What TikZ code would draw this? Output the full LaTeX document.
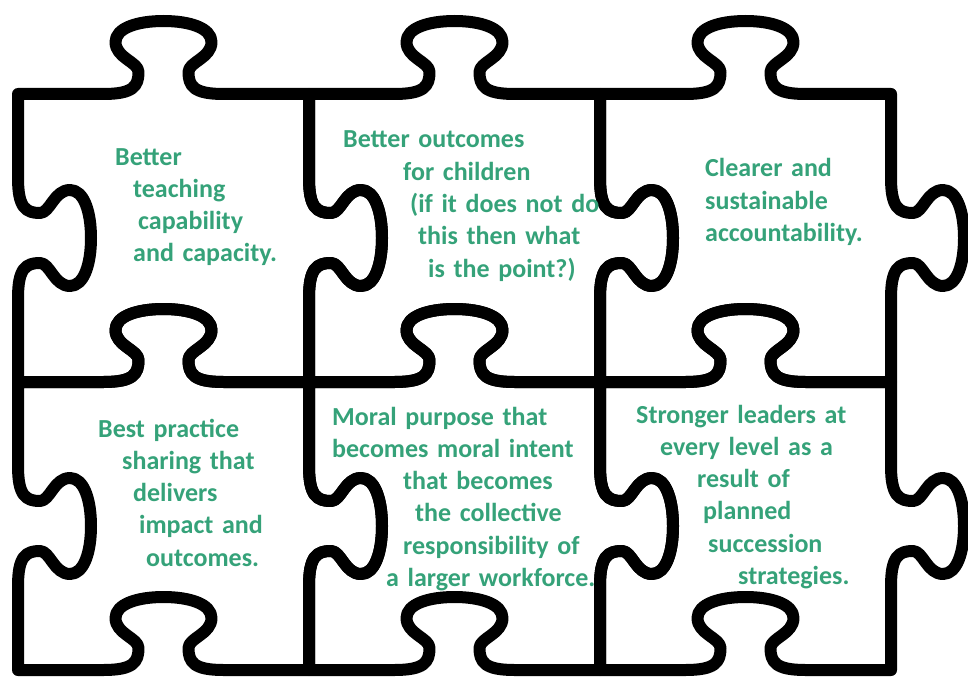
\documentclass[tikz,border=0pt]{standalone}
\usepackage{fontspec}
\setmainfont{Carlito}
\definecolor{leafgreen}{RGB}{53,162,121}
% one puzzle piece, 291 x 288, knob out at top and right, hole at bottom and left
\tikzset{
  pics/piece/.style={code={
    \draw[outline] (0,0) -- (85.5,0)
      .. controls (115.5,0) and (120.5,-8) .. (120.5,-22)
      .. controls (120.5,-32) and (97.5,-36) .. (97.5,-52)
      .. controls (97.5,-66) and (119.5,-73) .. (145.5,-73)
      .. controls (171.5,-73) and (193.5,-66) .. (193.5,-52)
      .. controls (193.5,-36) and (170.5,-32) .. (170.5,-22)
      .. controls (170.5,-8) and (175.5,0) .. (205.5,0) -- (291,0)
      -- (291,84)
      .. controls (291,114) and (299,119) .. (313,119)
      .. controls (323,119) and (327,96) .. (343,96)
      .. controls (357,96) and (364,118) .. (364,144)
      .. controls (364,170) and (357,192) .. (343,192)
      .. controls (327,192) and (323,169) .. (313,169)
      .. controls (299,169) and (291,174) .. (291,204) -- (291,288)
      -- (205.5,288)
      .. controls (175.5,288) and (170.5,280) .. (170.5,266)
      .. controls (170.5,256) and (193.5,252) .. (193.5,236)
      .. controls (193.5,222) and (171.5,215) .. (145.5,215)
      .. controls (119.5,215) and (97.5,222) .. (97.5,236)
      .. controls (97.5,252) and (120.5,256) .. (120.5,266)
      .. controls (120.5,280) and (115.5,288) .. (85.5,288) -- (0,288)
      -- (0,204)
      .. controls (0,174) and (8,169) .. (22,169)
      .. controls (32,169) and (36,192) .. (52,192)
      .. controls (66,192) and (73,170) .. (73,144)
      .. controls (73,118) and (66,96) .. (52,96)
      .. controls (36,96) and (32,119) .. (22,119)
      .. controls (8,119) and (0,114) .. (0,84) -- cycle;
  }}
}
\begin{document}
\begin{tikzpicture}[x=1pt,y=-1pt]
\tikzstyle{outline} = [line width=12pt, line join=round, draw=black]
\tikzstyle{words} = [anchor=base west, inner sep=0pt, text width=290pt, align=left, text=leafgreen, font=\bfseries\fontsize{26}{32.3}\selectfont]
\useasboundingbox (0,0) rectangle (968,679);
% the six pieces
\pic at (18,94) {piece};
\pic at (309,94) {piece};
\pic at (600,94) {piece};
\pic at (18,382) {piece};
\pic at (309,382) {piece};
\pic at (600,382) {piece};
% texts
\node (capacity)[words] at (115,165) {Better\\\hspace*{18pt}teaching\\\hspace*{23pt}capability\\\hspace*{18pt}and capacity.};
\node (children)[words] at (343,148) {Better outcomes\\\hspace*{60pt}for children\\\hspace*{67pt}(if it does not do\\\hspace*{75pt}this then what\\\hspace*{85pt}is the point?)};
\node (account)[words] at (705,177) {Clearer and\\sustainable\\accountability.};
\node (practice)[words] at (98,437) {Best practice\\\hspace*{24pt}sharing that\\\hspace*{35pt}delivers\\\hspace*{41pt}impact and\\\hspace*{48pt}outcomes.};
\node (purpose)[words] at (332,425) {Moral purpose that\\becomes moral intent\\\hspace*{71pt}that becomes\\\hspace*{83pt}the collective\\\hspace*{71pt}responsibility of\\\hspace*{54pt}a larger workforce.};
\node (leaders)[words] at (636,423) {Stronger leaders at\\\hspace*{24pt}every level as a\\\hspace*{61pt}result of\\\hspace*{67pt}planned\\\hspace*{72pt}succession\\\hspace*{102pt}strategies.};
\end{tikzpicture}
\end{document}
